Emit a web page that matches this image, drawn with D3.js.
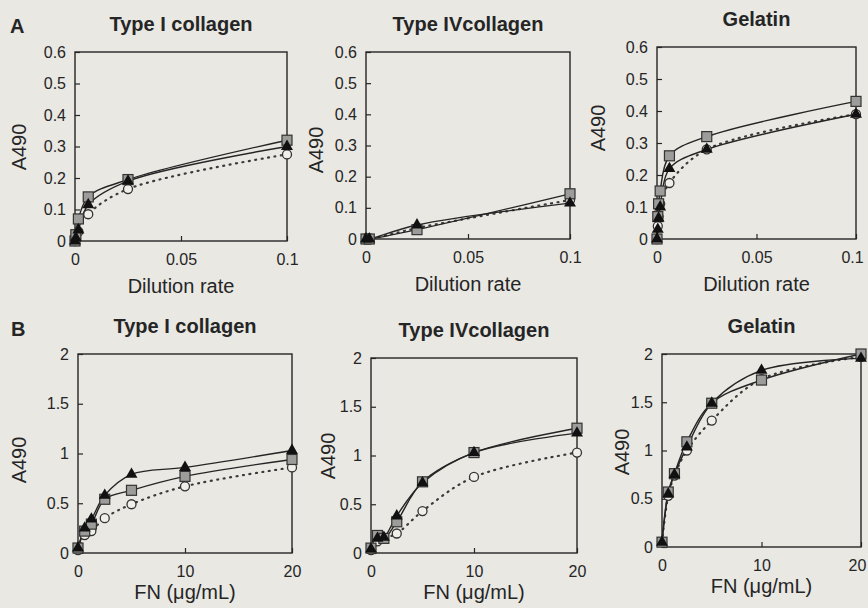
<!DOCTYPE html>
<html>
<head>
<meta charset="utf-8">
<script src="https://cdn.jsdelivr.net/npm/d3@7"></script>
<style>
body { margin: 0; background: #e9e8e3; }
svg { display: block; font-family: "Liberation Sans", Arial, sans-serif; }
</style>
</head>
<body>
<script>
/* - - - - - - DATA
*/
var panelTitles = ["Type I collagen", "Type IVcollagen", "Gelatin"];

var yTicksA = [0, 0.1, 0.2, 0.3, 0.4, 0.5, 0.6];
var xTicksA = [0, 0.05, 0.1];
var yTicksB = [0, 0.5, 1, 1.5, 2];
var xTicksB = [0, 10, 20];

// row A: dilution rate
var dilA1 = [0, 0.0004, 0.0016, 0.00625, 0.025, 0.1];
var a1Square   = [0, 0.02, 0.07, 0.14, 0.195, 0.32];
var a1Triangle = [0, 0.01, 0.035, 0.115, 0.19, 0.30];
var a1Circle   = [0, 0.01, 0.03, 0.085, 0.165, 0.275];

var dilA2 = [0, 0.0016, 0.025, 0.1];
var a2Square   = [0, 0, 0.03, 0.145];
var a2Triangle = [0, 0, 0.045, 0.115];
var a2Circle   = [0, 0, 0.035, 0.125];

var dilA3 = [0, 0.0004, 0.0008, 0.0016, 0.00625, 0.025, 0.1];
var a3Square   = [0, 0.07, 0.11, 0.15, 0.26, 0.32, 0.43];
var a3Triangle = [0, 0.03, 0.065, 0.10, 0.22, 0.28, 0.39];
var a3Circle   = [0, 0.04, 0.07, 0.11, 0.175, 0.28, 0.39];

// row B: FN concentration
var fnDose = [0, 0.625, 1.25, 2.5, 5, 10, 20];
var b1Square   = [0.05, 0.22, 0.29, 0.54, 0.63, 0.77, 0.94];
var b1Triangle = [0.05, 0.25, 0.34, 0.58, 0.79, 0.86, 1.03];
var b1Circle   = [0.03, 0.18, 0.22, 0.35, 0.49, 0.67, 0.86];

var b2Square   = [0.05, 0.18, 0.15, 0.32, 0.73, 1.03, 1.28];
var b2Triangle = [0.04, 0.15, 0.16, 0.38, 0.72, 1.03, 1.23];
var b2Circle   = [0.03, 0.12, 0.15, 0.20, 0.43, 0.78, 1.03];

var b3Square   = [0.05, 0.57, 0.76, 1.09, 1.49, 1.73, 2.0];
var b3Triangle = [0.05, 0.55, 0.75, 1.035, 1.49, 1.83, 1.955];
var b3Circle   = [0.05, 0.53, 0.74, 1.0, 1.31, 1.74, 1.97];

/* - - - - - - LAYOUT
*/
var W = 868, H = 608;
var ink = "#252525";

var panels = [
  {row: "A", t: 0, box: [75, 287, 52, 241], ylab: [19, 147], xs: dilA1, sq: a1Square, tri: a1Triangle, ci: a1Circle},
  {row: "A", t: 1, box: [366, 570, 52, 239], ylab: [316, 150], xs: dilA2, sq: a2Square, tri: a2Triangle, ci: a2Circle},
  {row: "A", t: 2, box: [657, 856, 47, 239], ylab: [598, 128], xs: dilA3, sq: a3Square, tri: a3Triangle, ci: a3Circle},
  {row: "B", t: 0, box: [78, 292, 354, 553], ylab: [19, 460], xs: fnDose, sq: b1Square, tri: b1Triangle, ci: b1Circle},
  {row: "B", t: 1, box: [371, 577, 358, 553], ylab: [328, 456], xs: fnDose, sq: b2Square, tri: b2Triangle, ci: b2Circle},
  {row: "B", t: 2, box: [662, 861, 354, 547], ylab: [622, 452], xs: fnDose, sq: b3Square, tri: b3Triangle, ci: b3Circle}
];

var svg = d3.select("body").append("svg")
  .attr("width", W)
  .attr("height", H);

svg.append("rect").attr("width", W).attr("height", H).attr("fill", "#e9e8e3");

// row letters
svg.append("text").attr("x", 10).attr("y", 33)
  .attr("font-size", 20).attr("font-weight", "bold").attr("fill", ink).text("A");
svg.append("text").attr("x", 11).attr("y", 336)
  .attr("font-size", 20).attr("font-weight", "bold").attr("fill", ink).text("B");

panels.forEach(draw_panel);

function draw_panel(p){
  var isA = p.row == "A";
  var x0 = p.box[0], x1 = p.box[1], y0 = p.box[2], y1 = p.box[3];

  var x = d3.scaleLinear().domain(isA ? [0, 0.1] : [0, 20]).range([x0, x1]);
  var y = d3.scaleLinear().domain(isA ? [0, 0.6] : [0, 2]).range([y1, y0]);

  var g = svg.append("g");

  // axes with inward ticks
  var yAxis = d3.axisLeft(y).tickValues(isA ? yTicksA : yTicksB)
    .tickSize(-5).tickPadding(9).tickFormat(function(d){ return String(d); });
  var xAxis = d3.axisBottom(x).tickValues(isA ? xTicksA : xTicksB)
    .tickSize(-5).tickPadding(13).tickFormat(function(d){ return String(d); });

  var ya = g.append("g").attr("transform", "translate(" + x0 + ",0)").call(yAxis);
  var xa = g.append("g").attr("transform", "translate(0," + y1 + ")").call(xAxis);
  [ya, xa].forEach(function(a){
    a.select(".domain").remove();
    a.selectAll("line").attr("stroke", ink).attr("stroke-width", 1.2);
    a.selectAll("text").attr("fill", ink).attr("font-size", 16)
      .style("font-family", "'Liberation Sans', Arial, sans-serif");
  });
  // keep the last label of the right column inside the page
  if (p.t == 2) {
    xa.selectAll(".tick:last-of-type text").attr("dx", -4);
  }

  // frame
  g.append("rect")
    .attr("x", x0).attr("y", y0)
    .attr("width", x1 - x0).attr("height", y1 - y0)
    .attr("fill", "none").attr("stroke", ink).attr("stroke-width", 1.4);

  // titles
  g.append("text").attr("x", (x0 + x1) / 2).attr("y", y0 - 21)
    .attr("text-anchor", "middle").attr("font-size", 20).attr("font-weight", "bold")
    .attr("fill", ink).text(panelTitles[p.t]);

  g.append("text").attr("x", (x0 + x1) / 2).attr("y", y1 + (isA ? 52 : 46))
    .attr("text-anchor", "middle").attr("font-size", 20)
    .attr("fill", ink).text(isA ? "Dilution rate" : "FN (\u03bcg/mL)");

  g.append("text")
    .attr("transform", "translate(" + p.ylab[0] + "," + p.ylab[1] + ") rotate(-90)")
    .attr("dy", "0.35em")
    .attr("text-anchor", "middle").attr("font-size", 20)
    .attr("fill", ink).text("A490");

  // lines
  var line = d3.line()
    .x(function(d){ return x(d[0]); })
    .y(function(d){ return y(d[1]); })
    .curve(d3.curveCatmullRom.alpha(0.5));

  function pts(vals){ return p.xs.map(function(v, i){ return [v, vals[i]]; }); }

  g.append("path").attr("d", line(pts(p.ci)))
    .attr("fill", "none").attr("stroke", "#3a3a3a").attr("stroke-width", 2.2)
    .attr("stroke-linecap", "round").attr("stroke-dasharray", "1,5.5");
  g.append("path").attr("d", line(pts(p.sq)))
    .attr("fill", "none").attr("stroke", ink).attr("stroke-width", 1.4);
  g.append("path").attr("d", line(pts(p.tri)))
    .attr("fill", "none").attr("stroke", ink).attr("stroke-width", 1.4);

  // markers
  g.selectAll(".ci").data(pts(p.ci)).enter().append("circle")
    .attr("cx", function(d){ return x(d[0]); })
    .attr("cy", function(d){ return y(d[1]); })
    .attr("r", 4.5)
    .attr("fill", "#f0efea").attr("stroke", "#333").attr("stroke-width", 1.3);

  g.selectAll(".sq").data(pts(p.sq)).enter().append("rect")
    .attr("x", function(d){ return x(d[0]) - 5; })
    .attr("y", function(d){ return y(d[1]) - 5; })
    .attr("width", 10).attr("height", 10)
    .attr("fill", "#9c9c9a").attr("stroke", "#333").attr("stroke-width", 1.2);

  var tri = d3.symbol().type(d3.symbolTriangle).size(62);
  g.selectAll(".tri").data(pts(p.tri)).enter().append("path")
    .attr("d", tri)
    .attr("transform", function(d){ return "translate(" + x(d[0]) + "," + y(d[1]) + ")"; })
    .attr("fill", "#111");
}
</script>
</body>
</html>
